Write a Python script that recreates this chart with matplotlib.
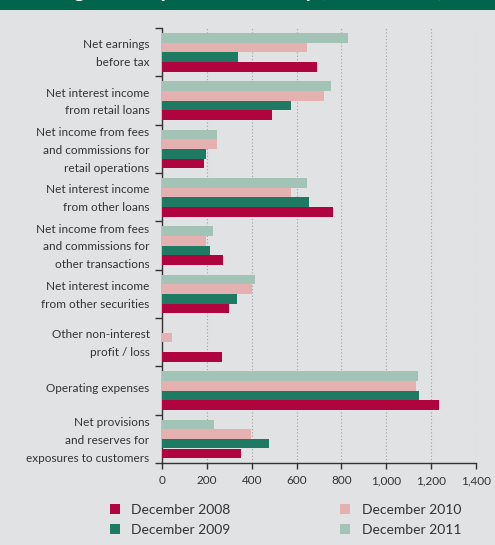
import matplotlib.pyplot as plt
import matplotlib.transforms as mtransforms
import numpy as np
from matplotlib.patches import Rectangle

plt.rcParams['font.family'] = ['Lato', 'DejaVu Sans']

categories = ['Net earnings\nbefore tax',
              'Net interest income\nfrom retail loans',
              'Net income from fees\nand commissions for\nretail operations',
              'Net interest income\nfrom other loans',
              'Net income from fees\nand commissions for\nother transactions',
              'Net interest income\nfrom other securities',
              'Other non-interest\nprofit / loss',
              'Operating expenses',
              'Net provisions\nand reserves for\nexposures to customers']

dec_2008 = [690, 490, 187, 762, 272, 298, 267, 1234, 352]
dec_2009 = [338, 575, 196, 655, 214, 334, 0, 1145, 477]
dec_2010 = [646, 722, 245, 575, 196, 401, 45, 1131, 397]
dec_2011 = [828, 753, 245, 646, 227, 414, 0, 1141, 231]

series = ['December 2008', 'December 2009', 'December 2010', 'December 2011']
colors = ['#b0043f', '#1f7a63', '#e5b1b0', '#a2c3b6']
values = [dec_2008, dec_2009, dec_2010, dec_2011]
offsets = [0.3, 0.1, -0.1, -0.3]

bg = '#e1e2e4'
fig = plt.figure(figsize=(4.95, 5.45), dpi=100, facecolor=bg)

# green header band, title mostly cut off at the top (as in the source page)
fig.patches.append(Rectangle((0, 1 - 10 / 545), 1, 10 / 545, transform=fig.transFigure,
                             facecolor='#00654a', edgecolor='none', zorder=0))
fig.text(0.03, 1 + 2.8 / 545, 'Earnings and expenses summary (HRK million)',
         color='white', fontsize=15, fontweight='bold', va='baseline', ha='left')

ax = fig.add_axes([162 / 495, 82 / 545, 314 / 495, 435 / 545])
ax.set_facecolor(bg)

y = np.arange(len(categories))
for vals, col, off, name in zip(values, colors, offsets, series):
    ax.barh(y + off, vals, height=0.2, color=col, label=name, zorder=3)

ax.set_xlim(0, 1400)
ax.set_ylim(8.5, -0.5)
ax.set_xticks(range(0, 1401, 200))
ax.set_xticklabels(['0', '200', '400', '600', '800', '1,000', '1,200', '1,400'])
ax.xaxis.grid(True, linestyle=(0, (1, 2)), color='#a0a0a0', linewidth=0.8, zorder=0)

# last x label sits a little to the left of its tick
last = ax.get_xticklabels()[-1]
last.set_transform(last.get_transform() + mtransforms.ScaledTranslation(-8 / 100, 0, fig.dpi_scale_trans))

# labels sit slightly above the group centre
ax.set_yticks(y - 0.06)
ax.set_yticklabels(categories, fontsize=8.5, linespacing=1.75, color='#333333')
ax.set_yticks(np.arange(-0.5, 9, 1), minor=True)
ax.tick_params(axis='y', which='major', length=0, pad=9)
ax.tick_params(axis='y', which='minor', length=5, width=1, color='#333333')
ax.tick_params(axis='x', length=4, width=1, color='#333333', labelsize=8.5,
               labelcolor='#333333', pad=5)

for s in ['top', 'right']:
    ax.spines[s].set_visible(False)
for s in ['left', 'bottom']:
    ax.spines[s].set_color('#333333')
    ax.spines[s].set_linewidth(1)

handles, labels = ax.get_legend_handles_labels()
leg = fig.legend(handles, labels,
                 loc='upper left', bbox_to_anchor=(97 / 495, 1 - 491 / 545), ncol=2,
                 frameon=False, fontsize=10, handlelength=0.75, handleheight=0.75,
                 handletextpad=0.8, columnspacing=7.9, labelspacing=0.6,
                 labelcolor='#333333')

fig.savefig('out.png', dpi=100, facecolor=bg)
